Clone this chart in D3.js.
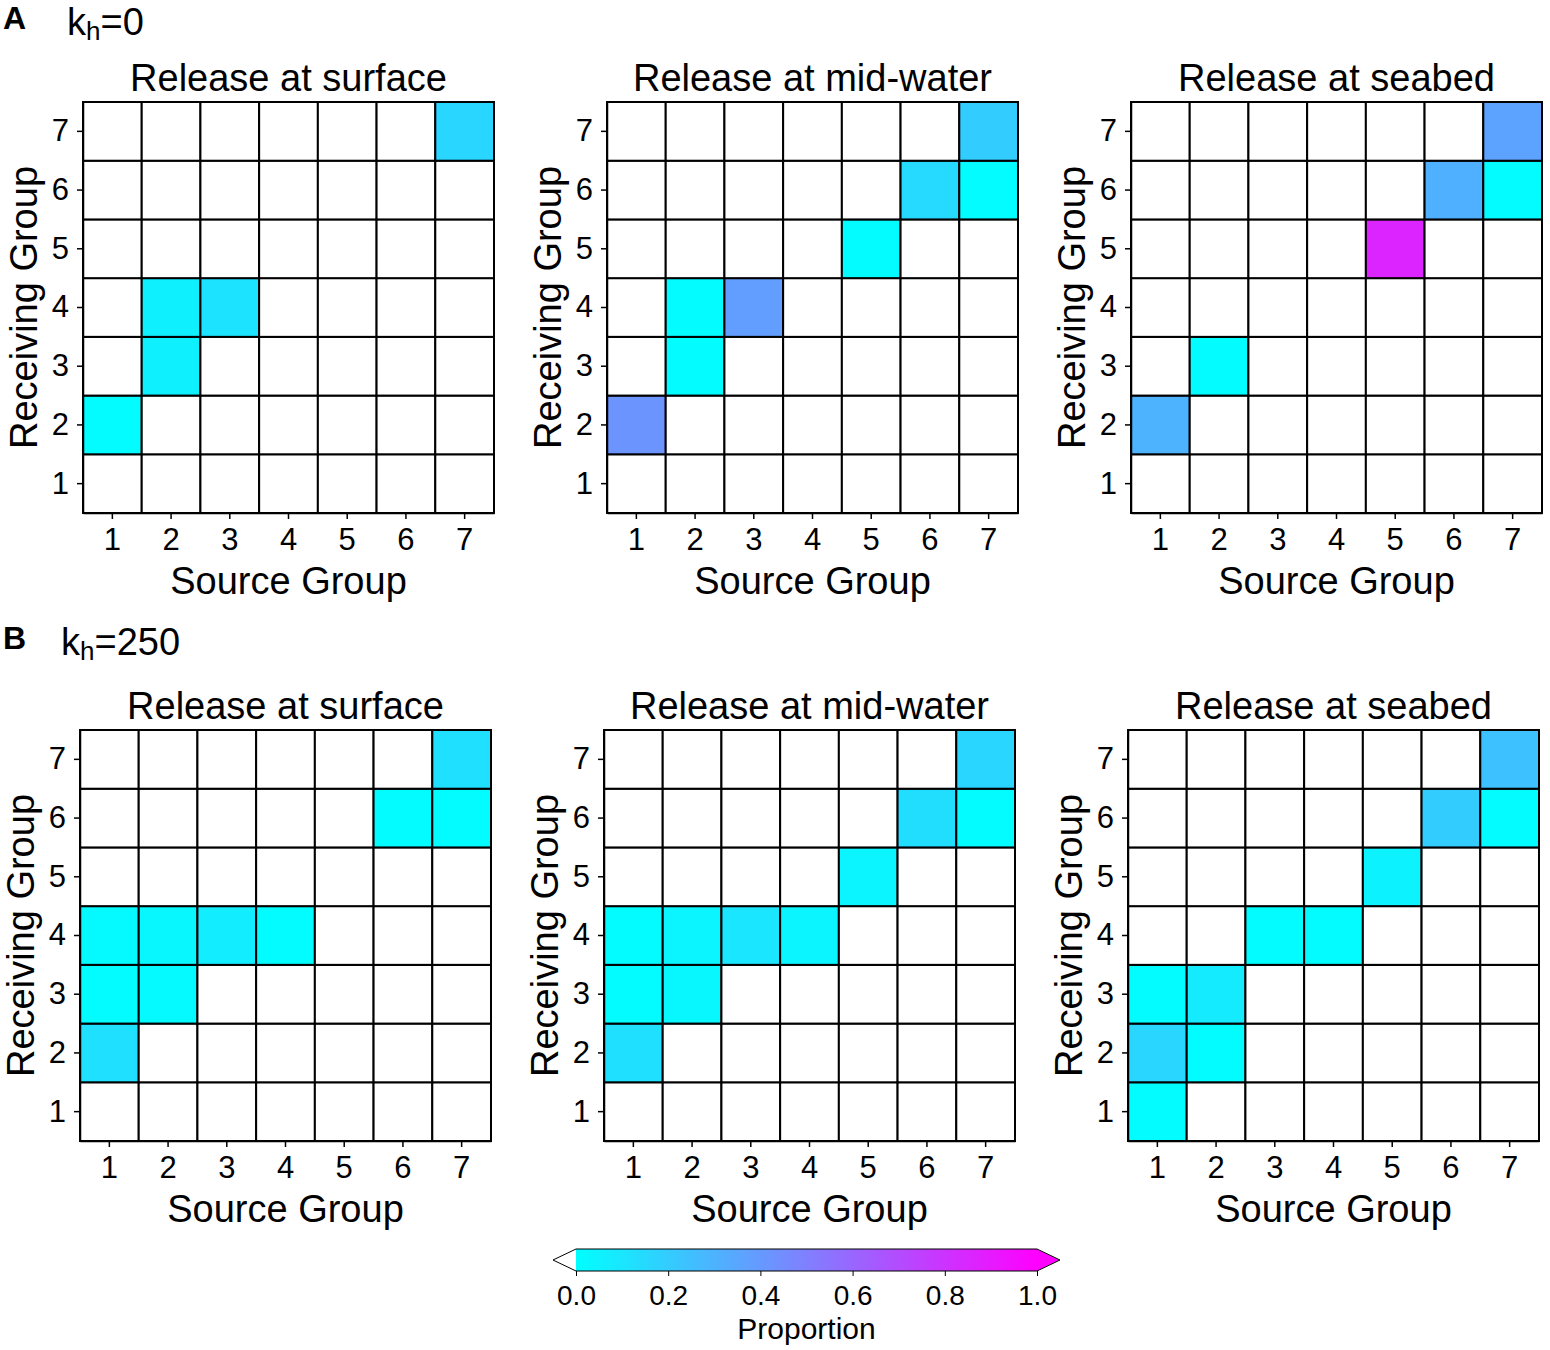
<!DOCTYPE html>
<html>
<head>
<meta charset="utf-8">
<title>Connectivity matrices</title>
<script src="https://d3js.org/d3.v7.min.js"></script>
<style>
  body { margin: 0; background: #fff; }
  svg { font-family: "Liberation Sans", Arial, sans-serif; }
</style>
</head>
<body>
<div id="chart"></div>
<script>
// groups and ticks
var groups = [1, 2, 3, 4, 5, 6, 7];
var cbarTicks = [0, 0.2, 0.4, 0.6, 0.8, 1.0];
var panelTitles = ["Release at surface", "Release at mid-water", "Release at seabed"];

// rows = receiving group 1..7, cols = source group 1..7 (0 = no connection)
var kh0Surface = [
  [0, 0, 0, 0, 0, 0, 0],
  [0.01, 0, 0, 0, 0, 0, 0],
  [0, 0.06, 0, 0, 0, 0, 0],
  [0, 0.06, 0.11, 0, 0, 0, 0],
  [0, 0, 0, 0, 0, 0, 0],
  [0, 0, 0, 0, 0, 0, 0],
  [0, 0, 0, 0, 0, 0, 0.16]
];
var kh0Mid = [
  [0, 0, 0, 0, 0, 0, 0],
  [0.42, 0, 0, 0, 0, 0, 0],
  [0, 0.01, 0, 0, 0, 0, 0],
  [0, 0.01, 0.38, 0, 0, 0, 0],
  [0, 0, 0, 0, 0.01, 0, 0],
  [0, 0, 0, 0, 0, 0.15, 0.01],
  [0, 0, 0, 0, 0, 0, 0.2]
];
var kh0Seabed = [
  [0, 0, 0, 0, 0, 0, 0],
  [0.3, 0, 0, 0, 0, 0, 0],
  [0, 0.01, 0, 0, 0, 0, 0],
  [0, 0, 0, 0, 0, 0, 0],
  [0, 0, 0, 0, 0.86, 0, 0],
  [0, 0, 0, 0, 0, 0.31, 0.01],
  [0, 0, 0, 0, 0, 0, 0.36]
];
var kh250Surface = [
  [0, 0, 0, 0, 0, 0, 0],
  [0.12, 0, 0, 0, 0, 0, 0],
  [0.01, 0.02, 0, 0, 0, 0, 0],
  [0.02, 0.03, 0.07, 0.01, 0, 0, 0],
  [0, 0, 0, 0, 0, 0, 0],
  [0, 0, 0, 0, 0, 0.01, 0.01],
  [0, 0, 0, 0, 0, 0, 0.12]
];
var kh250Mid = [
  [0, 0, 0, 0, 0, 0, 0],
  [0.12, 0, 0, 0, 0, 0, 0],
  [0.01, 0.03, 0, 0, 0, 0, 0],
  [0.01, 0.04, 0.1, 0.04, 0, 0, 0],
  [0, 0, 0, 0, 0.04, 0, 0],
  [0, 0, 0, 0, 0, 0.13, 0.01],
  [0, 0, 0, 0, 0, 0, 0.16]
];
var kh250Seabed = [
  [0.01, 0, 0, 0, 0, 0, 0],
  [0.16, 0.01, 0, 0, 0, 0, 0],
  [0.01, 0.08, 0, 0, 0, 0, 0],
  [0, 0, 0.01, 0.01, 0, 0, 0],
  [0, 0, 0, 0, 0.05, 0, 0],
  [0, 0, 0, 0, 0, 0.2, 0.01],
  [0, 0, 0, 0, 0, 0, 0.24]
];

var W = 1550, H = 1350;
var size = 411;
var svg = d3.select("#chart").append("svg")
  .attr("width", W).attr("height", H);

// "cool" colormap
var color = d3.scaleLinear().domain([0, 1]).range(["#00ffff", "#ff00ff"]);

function heatmap(data, left, top, title) {
  var g = svg.append("g").attr("transform", "translate(" + left + "," + top + ")");
  var x = d3.scaleBand().domain(groups).range([0, size]);
  var y = d3.scaleBand().domain(groups.slice().reverse()).range([0, size]);

  var cells = [];
  data.forEach(function(row, i) {
    row.forEach(function(v, j) {
      cells.push({ src: groups[j], rec: groups[i], v: v });
    });
  });

  g.selectAll("rect.cell")
    .data(cells)
    .enter().append("rect")
    .attr("class", "cell")
    .attr("x", function(d) { return x(d.src); })
    .attr("y", function(d) { return y(d.rec); })
    .attr("width", x.bandwidth())
    .attr("height", y.bandwidth())
    .attr("fill", function(d) { return d.v > 0 ? color(d.v) : "#fff"; })
    .attr("stroke", "#000")
    .attr("stroke-width", 2);

  var xAxis = g.append("g")
    .attr("transform", "translate(0," + size + ")")
    .call(d3.axisBottom(x).tickSize(6).tickSizeOuter(0).tickPadding(6));
  var yAxis = g.append("g")
    .call(d3.axisLeft(y).tickSize(6).tickSizeOuter(0).tickPadding(8));
  [xAxis, yAxis].forEach(function(a) {
    a.select(".domain").attr("stroke-width", 1.5);
    a.selectAll(".tick line").attr("stroke-width", 1.5);
    a.selectAll("text").attr("font-size", 31).attr("fill", "#000")
      .attr("font-family", "Liberation Sans, Arial, sans-serif");
  });
  xAxis.selectAll("text").attr("dy", "0.8em");

  g.append("text")
    .attr("x", size / 2).attr("y", -11)
    .attr("text-anchor", "middle")
    .attr("font-size", 38)
    .text(title);

  g.append("text")
    .attr("x", size / 2).attr("y", size + 81)
    .attr("text-anchor", "middle")
    .attr("font-size", 38)
    .text("Source Group");

  g.append("text")
    .attr("transform", "translate(-46," + (size / 2) + ") rotate(-90)")
    .attr("text-anchor", "middle")
    .attr("font-size", 38)
    .text("Receiving Group");
}

var rowA = [kh0Surface, kh0Mid, kh0Seabed];
var rowB = [kh250Surface, kh250Mid, kh250Seabed];
var leftsA = [83, 607, 1131], leftsB = [80, 604, 1128];

rowA.forEach(function(d, i) { heatmap(d, leftsA[i], 102, panelTitles[i]); });
rowB.forEach(function(d, i) { heatmap(d, leftsB[i], 730, panelTitles[i]); });

// panel labels
function panelLabel(letter, val, y, kx) {
  svg.append("text").attr("x", 3).attr("y", y - 6)
    .attr("font-size", 32).attr("font-weight", "bold").text(letter);
  var t = svg.append("text").attr("x", kx).attr("y", y).attr("font-size", 38);
  t.append("tspan").text("k");
  t.append("tspan").attr("font-size", 26).attr("dy", 5).text("h");
  t.append("tspan").attr("dy", -5).text("=" + val);
}
panelLabel("A", "0", 35, 67);
panelLabel("B", "250", 655, 61);

// colorbar
var cbL = 576, cbR = 1037, cbT = 1249, cbH = 22;
var cx = d3.scaleLinear().domain([0, 1]).range([cbL, cbR]);
var defs = svg.append("defs");
var grad = defs.append("linearGradient").attr("id", "cbgrad");
d3.range(0, 1.01, 0.1).forEach(function(t) {
  grad.append("stop").attr("offset", t).attr("stop-color", color(t));
});
svg.append("rect")
  .attr("x", cbL).attr("y", cbT).attr("width", cbR - cbL).attr("height", cbH)
  .attr("fill", "url(#cbgrad)");
svg.append("path")
  .attr("d", "M" + cbL + "," + cbT + "L" + (cbL - 23) + "," + (cbT + cbH / 2) + "L" + cbL + "," + (cbT + cbH) + "Z")
  .attr("fill", "#fff");
svg.append("path")
  .attr("d", "M" + cbR + "," + cbT + "L" + (cbR + 23) + "," + (cbT + cbH / 2) + "L" + cbR + "," + (cbT + cbH) + "Z")
  .attr("fill", color(1));
svg.append("path")
  .attr("d", "M" + cbL + "," + cbT + "L" + cbR + "," + cbT + "L" + (cbR + 23) + "," + (cbT + cbH / 2) +
    "L" + cbR + "," + (cbT + cbH) + "L" + cbL + "," + (cbT + cbH) + "L" + (cbL - 23) + "," + (cbT + cbH / 2) + "Z")
  .attr("fill", "none").attr("stroke", "#000").attr("stroke-width", 1);

var cbAxis = svg.append("g")
  .attr("transform", "translate(0," + (cbT + cbH) + ")")
  .call(d3.axisBottom(cx).tickValues(cbarTicks).tickFormat(d3.format(".1f")).tickSize(5).tickPadding(9));
cbAxis.select(".domain").remove();
cbAxis.selectAll("text").attr("font-size", 28).attr("fill", "#000")
  .attr("font-family", "Liberation Sans, Arial, sans-serif");

svg.append("text")
  .attr("x", (cbL + cbR) / 2).attr("y", 1339)
  .attr("text-anchor", "middle")
  .attr("font-size", 30)
  .text("Proportion");
</script>
</body>
</html>
